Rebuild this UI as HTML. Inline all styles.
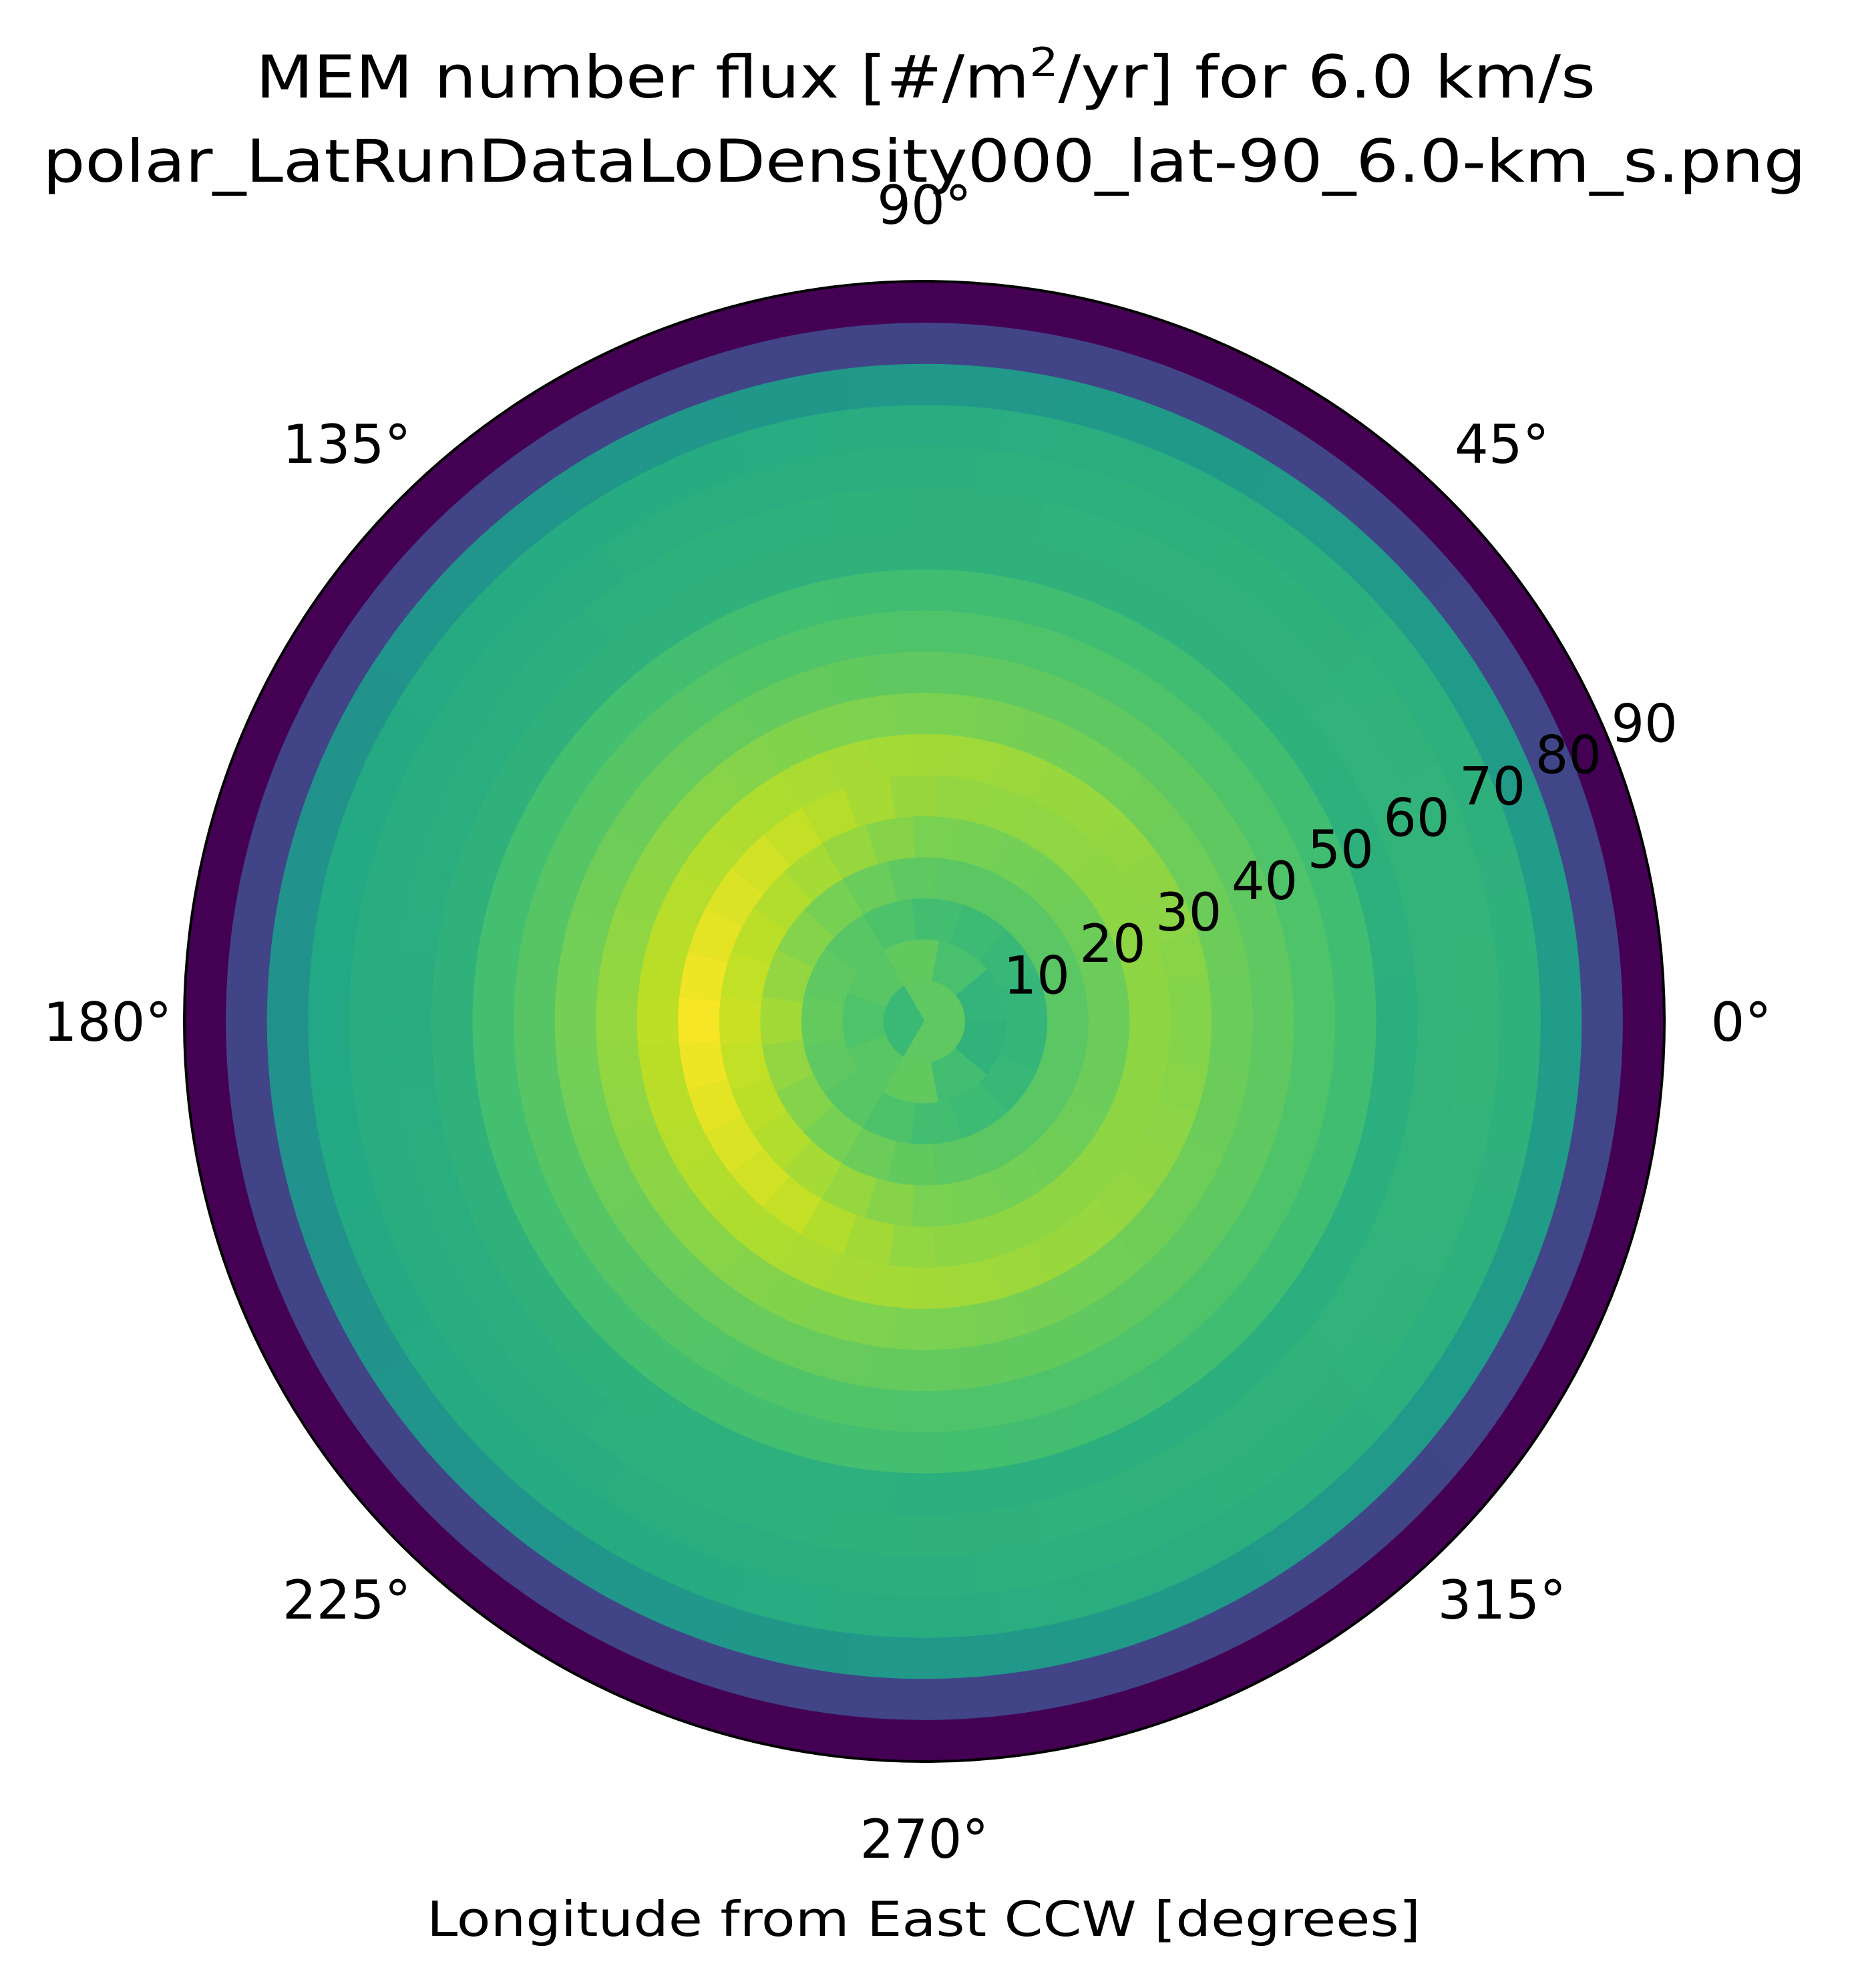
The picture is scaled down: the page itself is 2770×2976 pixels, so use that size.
<!DOCTYPE html>
<html>
<head>
<meta charset="utf-8">
<style>
html,body{margin:0;padding:0;background:#fff;}
svg{display:block;}
text{font-family:"DejaVu Sans","Liberation Sans",sans-serif;fill:#000;}
</style>
</head>
<body>
<svg id="chart" width="2770" height="2976" viewBox="0 0 2770 2976" xmlns="http://www.w3.org/2000/svg">
  <text x="1386" y="146" font-size="88" text-anchor="middle" textLength="2006" lengthAdjust="spacingAndGlyphs">MEM number flux [#/m<tspan font-size="60" dy="-32">2</tspan><tspan dy="32">/yr] for 6.0 km/s</tspan></text>
  <text x="1384" y="272" font-size="88" text-anchor="middle" textLength="2640" lengthAdjust="spacingAndGlyphs">polar_LatRunDataLoDensity000_lat-90_6.0-km_s.png</text>
  <g id="cells"></g>
  <circle cx="1384" cy="1529" r="1108" fill="none" stroke="#000" stroke-width="4"></circle>
  <g id="thetaLabels"></g>
  <g id="rLabels"></g>
  <text x="1383" y="2898" font-size="72" text-anchor="middle" textLength="1488" lengthAdjust="spacingAndGlyphs">Longitude from East CCW [degrees]</text>
</svg>
<script>
// Sample angles (degrees) at which each ring's value was read
const sampleAngles = [0, 45, 90, 135, 180, 225, 270, 315];
// Ring edges in degrees of colatitude (radial axis 0..90)
const ringEdges = [0,5,10,15,20,25,30,35,40,45,50,55,60,65,70,75,80,85,90];
// Normalised flux (viridis scale 0..1) per ring, at sampleAngles
const ring0  = [.75,.75,.75,.70,.67,.70,.75,.75];
const ring1  = [.63,.68,.76,.74,.72,.74,.76,.66];
const ring2  = [.65,.67,.70,.74,.76,.74,.70,.67];
const ring3  = [.74,.74,.745,.80,.86,.80,.75,.74];
const ring4  = [.77,.78,.80,.88,.92,.88,.80,.78];
const ring5  = [.83,.83,.84,.93,.99,.93,.83,.83];
const ring6  = [.81,.84,.86,.88,.90,.88,.86,.84];
const ring7  = [.77,.78,.80,.82,.84,.82,.80,.78];
const ring8  = [.75,.75,.75,.77,.79,.77,.76,.75];
const ring9  = [.72,.72,.72,.73,.735,.73,.72,.72];
const ring10 = [.69,.69,.69,.70,.70,.70,.70,.69];
const ring11 = [.63,.64,.64,.64,.64,.64,.63,.63];
const ring12 = [.65,.645,.64,.63,.62,.63,.64,.645];
const ring13 = [.655,.64,.63,.62,.62,.62,.63,.64];
const ring14 = [.64,.63,.62,.61,.60,.61,.62,.63];
const ring15 = [.55,.54,.53,.515,.50,.515,.53,.54];
const ring16 = [.21,.205,.20,.20,.20,.20,.20,.205];
const ring17 = [0,0,0,0,0,0,0,0];
const rings = [ring0,ring1,ring2,ring3,ring4,ring5,ring6,ring7,ring8,ring9,ring10,ring11,ring12,ring13,ring14,ring15,ring16,ring17];
const sectorsPerRing = [3,9,15,21,27,33,39,45,51,57,63,69,75,81,87,93,99,105];
const thetaTicks = [0,45,90,135,180,225,270,315];
const rTicks = [10,20,30,40,50,60,70,80,90];

const CX = 1384, CY = 1529, R = 1108, RMAX = 90;
function rScale(v){ return v / RMAX * R; }
function pt(r, deg){ const a = deg*Math.PI/180; return [CX + r*Math.cos(a), CY - r*Math.sin(a)]; }

const viridis = ['#440154','#482475','#414487','#355f8d','#2a788e','#21918c','#22a884','#44bf70','#7ad151','#bddf26','#fde725'];
function hex2rgb(h){ return [1,3,5].map(i=>parseInt(h.substr(i,2),16)); }
function colormap(v){
  v = Math.max(0, Math.min(1, v));
  const s = v*10, i = Math.min(9, Math.floor(s)), f = s - i;
  const a = hex2rgb(viridis[i]), b = hex2rgb(viridis[i+1]);
  return 'rgb(' + a.map((c,k)=>Math.round(c + (b[k]-c)*f)).join(',') + ')';
}
function valueAt(row, deg){
  deg = ((deg%360)+360)%360;
  const step = 360/sampleAngles.length;
  const i = Math.floor(deg/step) % row.length, j = (i+1) % row.length;
  const f = (deg - sampleAngles[i]) / step;
  return row[i] + (row[j]-row[i])*f;
}

const NS = 'http://www.w3.org/2000/svg';
const cells = document.getElementById('cells');
rings.forEach((row, ri) => {
  const r0 = rScale(ringEdges[ri]), r1 = rScale(ringEdges[ri+1]);
  const n = sectorsPerRing[ri];
  for (let j = 0; j < n; j++) {
    const a0 = j*360/n, a1 = (j+1)*360/n;
    const col = colormap(valueAt(row, (a0+a1)/2));
    const p1 = pt(r1, a0), p2 = pt(r1, a1);
    let d = 'M' + p1[0] + ' ' + p1[1] + ' A' + r1 + ' ' + r1 + ' 0 0 0 ' + p2[0] + ' ' + p2[1];
    if (r0 > 0) {
      const p3 = pt(r0, a1), p4 = pt(r0, a0);
      d += ' L' + p3[0] + ' ' + p3[1] + ' A' + r0 + ' ' + r0 + ' 0 0 1 ' + p4[0] + ' ' + p4[1] + ' Z';
    } else {
      d += ' L' + CX + ' ' + CY + ' Z';
    }
    const p = document.createElementNS(NS, 'path');
    p.setAttribute('d', d);
    p.setAttribute('fill', col);
    p.setAttribute('stroke', col);
    p.setAttribute('stroke-width', '1.2');
    
    
    cells.appendChild(p);
  }
});

const tg = document.getElementById('thetaLabels');
thetaTicks.forEach(t => {
  const rr = R + 115;
  const p = pt(rr, t);
  const el = document.createElementNS(NS, 'text');
  el.setAttribute('x', p[0]);
  el.setAttribute('y', p[1] + 29);
  el.setAttribute('font-size', '80');
  el.setAttribute('text-anchor', 'middle');
  el.textContent = t + '°';
  
  
  tg.appendChild(el);
});

const rg = document.getElementById('rLabels');
rTicks.forEach(v => {
  const p = pt(rScale(v) + 59, 22.5);
  const el = document.createElementNS(NS, 'text');
  el.setAttribute('x', p[0]);
  el.setAttribute('y', p[1] + 28);
  el.setAttribute('font-size', '78');
  el.setAttribute('text-anchor', 'middle');
  el.textContent = String(v);
  
  
  rg.appendChild(el);
});
</script>
</body>
</html>
